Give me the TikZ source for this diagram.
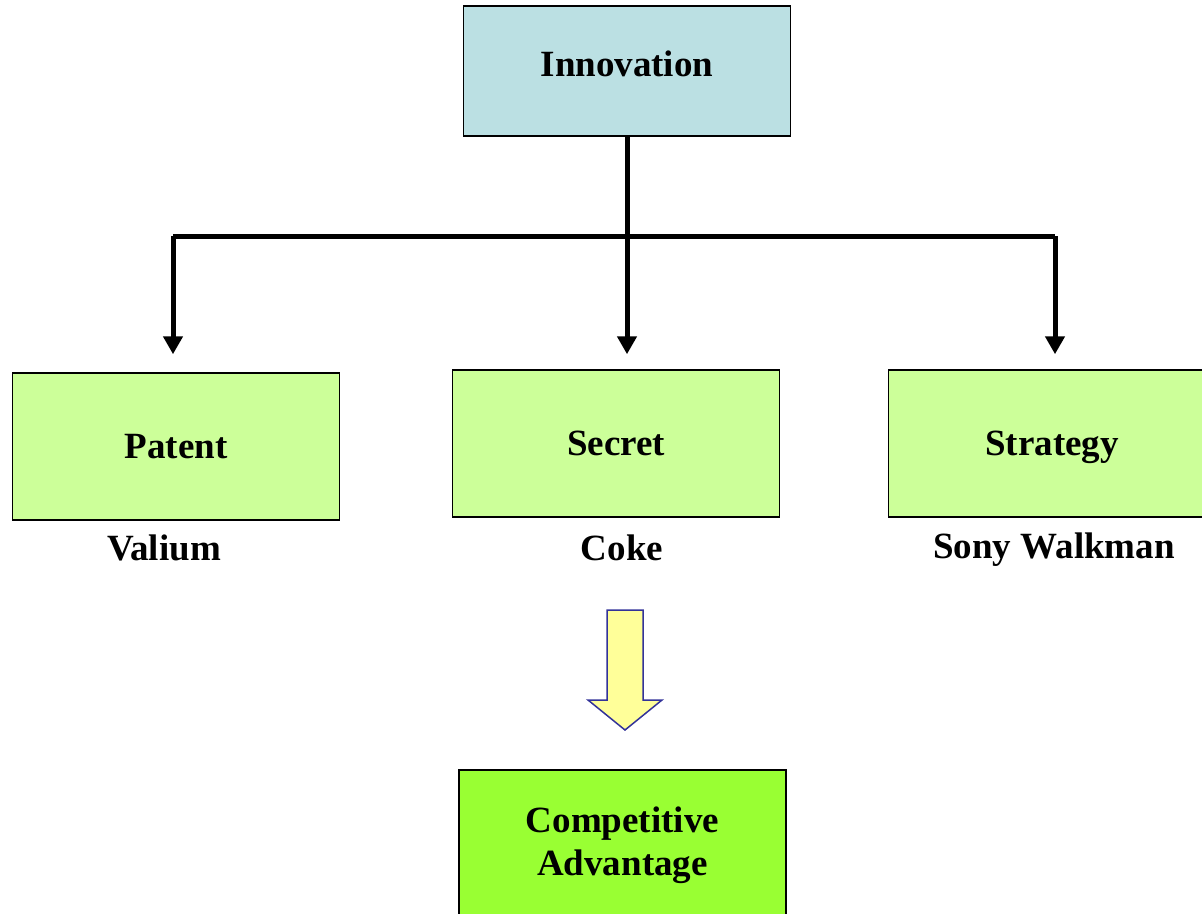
\documentclass[tikz,border=0pt]{standalone}
\usepackage{fontspec}
\setmainfont{Liberation Serif}
\usetikzlibrary{arrows.meta}

\definecolor{innovblue}{HTML}{BBE0E3}
\definecolor{palegreen}{HTML}{CCFF99}
\definecolor{limegreen}{HTML}{99FF33}
\definecolor{arrowyellow}{HTML}{FFFF99}
\definecolor{arrowedge}{HTML}{333399}

\tikzset{
  box/.style={draw=black, line width=1.5pt, minimum width=327pt, minimum height=147pt,
    inner sep=0pt, align=center, font=\fontsize{37}{44}\selectfont\bfseries},
  caption/.style={inner sep=0pt, font=\fontsize{37}{44}\selectfont\bfseries},
  link/.style={line width=5pt, -{Triangle[width=19pt,length=18pt]}, shorten >=15pt},
}

\begin{document}
\begin{tikzpicture}[x=1pt, y=-1pt]
  \useasboundingbox (0,0) rectangle (1202,913);
  \clip (0,0) rectangle (1202,913);

  % Top box
  \node[box, fill=innovblue, minimum height=130pt] (innov) at (627,71) {\raisebox{14pt}{Innovation}};

  % Three ways to protect it
  \node[box, fill=palegreen] (patent)   at (176,446.5)  {Patent};
  \node[box, fill=palegreen] (secret)   at (616,443.5)  {Secret};
  \node[box, fill=palegreen, text depth=0pt] (strategy) at (1052,443.5) {Strategy};

  % Examples under the boxes
  \node[caption] (valium)  at (164,548) {Valium};
  \node[caption] (coke)    at (622,548) {Coke};
  \node[caption] (walkman) at (1054,550) {Sony Walkman};

  % Result
  \node[box, fill=limegreen, minimum height=150pt]
    (advantage) at (622.5,845) {Competitive\\[-1pt]Advantage};

  % Branching connectors
  \coordinate (busL) at (173,236);
  \coordinate (busR) at (1055,236);
  \draw[line width=5pt] (busL) -- (busR);
  \draw[link] (innov.south) -- (innov.south |- secret.north);
  \draw[link] (busL) -- (busL |- secret.north);
  \draw[link] (busR) -- (busR |- strategy.north);

  % Block arrow down to the result
  \coordinate (btop) at (625,610);
  \draw[arrowedge, fill=arrowyellow, line width=1.5pt, line join=miter]
    (btop) ++(-18,0) -- ++(36,0) -- ++(0,90) -- ++(19,0) -- (625,730)
    -- (588,700) -- ++(19,0) -- cycle;
\end{tikzpicture}
\end{document}
